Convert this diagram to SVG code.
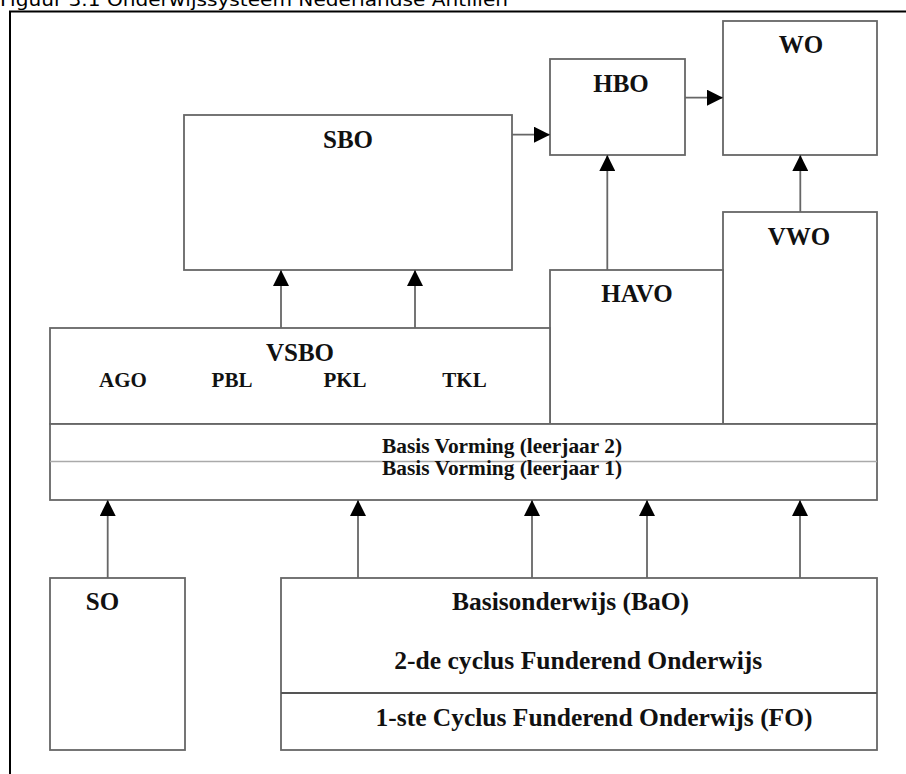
<svg xmlns="http://www.w3.org/2000/svg" width="906" height="774" viewBox="0 0 906 774">
<defs>
<marker id="ah" viewBox="0 0 16 16" refX="16" refY="8" markerWidth="16" markerHeight="16" markerUnits="userSpaceOnUse" orient="auto">
<path d="M0,0 L16,8 L0,16 Z" fill="#000"/>
</marker>
</defs>
<style>
.bx{fill:#fff;stroke:#666;stroke-width:1.8}
.t{font-family:"Liberation Serif","Times New Roman",serif;font-weight:bold;fill:#111;text-anchor:middle}
.big{font-size:25px}
.sm{font-size:21px}
.c{stroke:#666;stroke-width:1.8;fill:none;marker-end:url(#ah)}
</style>
<rect width="906" height="774" fill="#fff"/>
<text x="0" y="6" font-family="DejaVu Sans, Verdana, sans-serif" font-size="17" fill="#000" textLength="508" lengthAdjust="spacingAndGlyphs">Figuur 3.1 Onderwijssysteem Nederlandse Antillen</text>
<g id="frame" stroke="#000" stroke-width="2" fill="none">
<line x1="9" y1="11.5" x2="906" y2="11.5"/>
<line x1="10" y1="11" x2="10" y2="774"/>
</g>
<g id="WO"><rect class="bx" x="723" y="21" width="154" height="134"/><text class="t big" x="801" y="53">WO</text></g>
<g id="HBO"><rect class="bx" x="550" y="59" width="135" height="96"/><text class="t big" x="621" y="92">HBO</text></g>
<g id="SBO"><rect class="bx" x="184" y="115" width="328" height="155"/><text class="t big" x="348" y="148">SBO</text></g>
<g id="VWO"><rect class="bx" x="723" y="212" width="154" height="212"/><text class="t big" x="799" y="245">VWO</text></g>
<g id="HAVO"><rect class="bx" x="550" y="270" width="173" height="154"/><text class="t big" x="637" y="302">HAVO</text></g>
<g id="VSBO"><rect class="bx" x="50" y="328" width="500" height="96"/>
<text class="t big" x="300" y="360.5">VSBO</text>
<text class="t sm" x="123" y="386.5">AGO</text>
<text class="t sm" x="232" y="386.5">PBL</text>
<text class="t sm" x="345" y="386.5">PKL</text>
<text class="t sm" x="464.5" y="386.5">TKL</text>
</g>
<g id="Basis"><rect class="bx" x="50" y="424" width="827" height="76"/>
<line x1="50" y1="461.5" x2="877" y2="461.5" stroke="#aaa" stroke-width="1.5"/>
<text class="t sm" x="502" y="453" textLength="240" lengthAdjust="spacingAndGlyphs">Basis Vorming (leerjaar 2)</text>
<text class="t sm" x="502" y="475" textLength="240" lengthAdjust="spacingAndGlyphs">Basis Vorming (leerjaar 1)</text>
</g>
<g id="SO"><rect class="bx" x="50" y="578" width="135" height="172"/><text class="t big" x="102.5" y="610">SO</text></g>
<g id="BaO"><rect class="bx" x="281" y="578" width="596" height="172"/>
<line x1="281" y1="693" x2="877" y2="693" stroke="#555" stroke-width="2.2"/>
<text class="t big" x="570.5" y="610" textLength="237" lengthAdjust="spacingAndGlyphs">Basisonderwijs (BaO)</text>
<text class="t big" x="578.3" y="669" textLength="368" lengthAdjust="spacingAndGlyphs">2-de cyclus Funderend Onderwijs</text>
<text class="t big" x="594" y="726" textLength="437" lengthAdjust="spacingAndGlyphs">1-ste Cyclus Funderend Onderwijs (FO)</text>
</g>
<g id="connectors">
<line class="c" x1="512" y1="134.7" x2="550" y2="134.7"/>
<line class="c" x1="685" y1="97.7" x2="723" y2="97.7"/>
<line class="c" x1="607.3" y1="270" x2="607.3" y2="155"/>
<line class="c" x1="800.3" y1="212" x2="800.3" y2="155"/>
<line class="c" x1="281" y1="328" x2="281" y2="270"/>
<line class="c" x1="415" y1="328" x2="415" y2="270"/>
<line class="c" x1="107.7" y1="578" x2="107.7" y2="500"/>
<line class="c" x1="358" y1="578" x2="358" y2="500"/>
<line class="c" x1="532" y1="578" x2="532" y2="500"/>
<line class="c" x1="647" y1="578" x2="647" y2="500"/>
<line class="c" x1="800" y1="578" x2="800" y2="500"/>
</g>
</svg>
